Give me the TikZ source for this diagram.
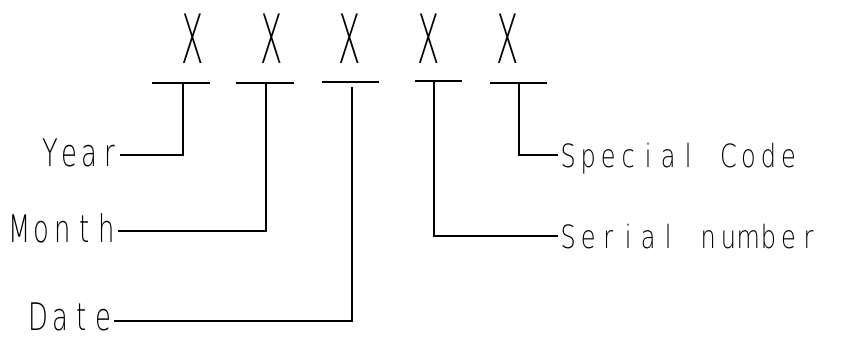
\documentclass[tikz,border=0pt]{standalone}
\usepackage{fontspec}
\IfFontExistsTF{DejaVu Sans ExtraLight}
  {\newfontfamily\cadfont{DejaVu Sans ExtraLight}}
  {\newfontfamily\cadfont{DejaVu Sans}}
\ExplSyntaxOn
\NewDocumentCommand\mono{mm}{\tl_map_inline:nn {#2} {\makebox[#1]{##1}}}
\ExplSyntaxOff
\begin{document}
\begin{tikzpicture}[x=1pt,y=-1pt,
  ln/.style={line width=1.4pt,black},
  lbll/.style={inner sep=0pt,text height=22pt,text depth=0pt,xscale=0.68,
    font=\cadfont\fontsize{38}{38}\selectfont},
  lblr/.style={inner sep=0pt,text height=25pt,text depth=0pt,xscale=0.75,
    font=\cadfont\fontsize{32}{32}\selectfont},
  xch/.style={inner sep=0pt,text depth=0pt,font=\cadfont\fontsize{68}{68}\selectfont,xscale=0.48}]
\useasboundingbox (0,0) rectangle (843,338);
% X characters
\node[xch] (x1) at (193,38.5) {X};
\node[xch] (x2) at (272,38.5) {X};
\node[xch] (x3) at (350,38.5) {X};
\node[xch] (x4) at (429,38.5) {X};
\node[xch] (x5) at (508,38.5) {X};
% bars
\coordinate (b1l) at (152,83); \coordinate (b1r) at (210,83); \coordinate (t1) at (183,83);
\coordinate (b2l) at (236,83); \coordinate (b2r) at (294,83); \coordinate (t2) at (266,83);
\coordinate (b3l) at (322,82); \coordinate (b3r) at (379,82); \coordinate (t3) at (352,87);
\coordinate (b4l) at (415,81); \coordinate (b4r) at (462,81); \coordinate (t4) at (434,81);
\coordinate (b5l) at (490,83); \coordinate (b5r) at (547,83); \coordinate (t5) at (519,83);
\foreach \i in {1,...,5} {\draw[ln] (b\i l) -- (b\i r);}
% labels
\node[lbll,anchor=east] (year) at (120,155) {\mono{29.4pt}{Year}};
\node[lbll,anchor=east] (month) at (118,231) {\mono{32.2pt}{Month}};
\node[lbll,anchor=east,text height=18pt] (date) at (114,321) {\mono{31.6pt}{Date}};
\node[lblr,anchor=west] (special) at (558,155) {\mono{26.7pt}{Special~Code}};
\node[lblr,anchor=west] (serial) at (558,236) {\mono{26.7pt}{Serial~number}};
% connectors
\draw[ln] (t1) |- (year.east);
\draw[ln] (t2) |- (month.east);
\draw[ln] (t3) |- (date.east);
\draw[ln] (t4) |- (serial.west);
\draw[ln] (t5) |- (special.west);
\end{tikzpicture}
\end{document}
